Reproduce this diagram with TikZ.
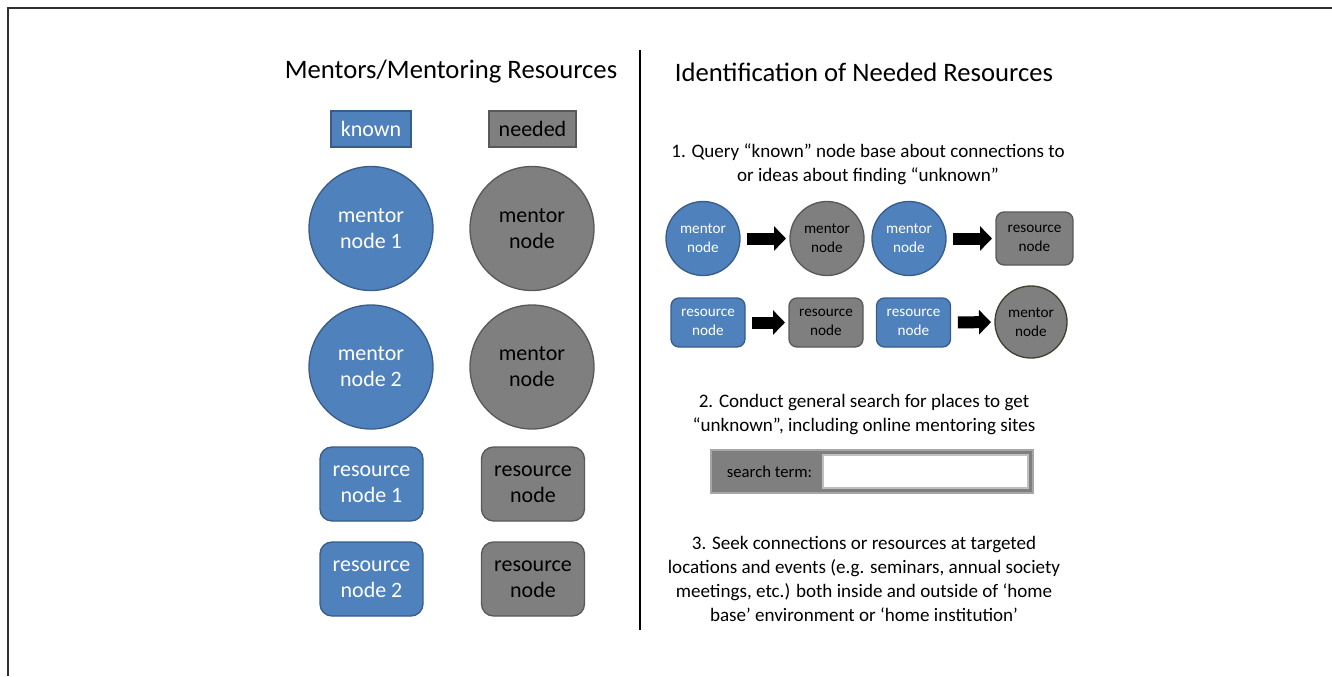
\documentclass[tikz,border=0pt]{standalone}
\usepackage{fontspec}
\setmainfont{Carlito}
\usetikzlibrary{arrows.meta}
\definecolor{bluefill}{HTML}{4F81BD}
\definecolor{blueline}{HTML}{385D8A}
\definecolor{grayfill}{HTML}{7F7F7F}
\definecolor{grayline}{HTML}{595959}
\definecolor{frameline}{HTML}{303030}
\tikzset{
  knownnode/.style={fill=bluefill, draw=blueline, line width=1pt, text=white, align=center},
  needednode/.style={fill=grayfill, draw=grayline, line width=1pt, text=black, align=center},
  bigfont/.style={font=\fontsize{16.5}{19.5}\selectfont},
  smallfont/.style={font=\fontsize{11.4}{14.25}\selectfont},
  bigcirc/.style={circle, minimum size=93pt, inner sep=0pt, bigfont},
  bigrect/.style={rectangle, rounded corners=9pt, minimum width=77.25pt, minimum height=55.5pt, inner sep=0pt, bigfont},
  smallcirc/.style={circle, minimum size=55.5pt, inner sep=0pt, smallfont},
  smallrect/.style={rectangle, rounded corners=6pt, minimum width=55.5pt, minimum height=36.75pt, inner sep=0pt, smallfont},
  legendbox/.style={rectangle, minimum height=27pt, inner sep=0pt, bigfont},
  titletext/.style={font=\fontsize{20}{24}\selectfont, inner sep=0pt},
  bodytext/.style={font=\fontsize{14.3}{18}\selectfont, align=center, inner sep=0pt},
  blockarrow/.style={line width=9pt, black, -{Triangle[length=9pt,width=18pt]}, shorten <=5pt, shorten >=2.5pt},
}
\begin{document}
\begin{tikzpicture}[x=0.75pt,y=-0.75pt]
\useasboundingbox (0,0) rectangle (1332,676);
% frame
\draw[frameline, line width=1.5pt] (8,676) -- (8,8) -- (1332,8);
% divider
\coordinate (divtop) at (640,50);
\coordinate (divbot) at (640,630);
\draw[black, line width=1.5pt] (divtop) -- (divbot);

% left column
\node[titletext] (ltitle) at (451,72) {Mentors/Mentoring Resources};
\node[knownnode, legendbox, minimum width=60pt] (known) at (371,129) {known};
\node[needednode, legendbox, minimum width=65.25pt] (needed) at (532.5,129) {needed};
\node[knownnode, bigcirc] (mentor1) at (371,228.5) {mentor\\node 1};
\node[needednode, bigcirc] (gmentor1) at (532,228.5) {mentor\\node};
\node[knownnode, bigcirc] (mentor2) at (371,367) {mentor\\node 2};
\node[needednode, bigcirc] (gmentor2) at (532,367) {mentor\\node};
\node[knownnode, bigrect] (res1) at (371.5,484) {resource\\node 1};
\node[needednode, bigrect] (gres1) at (533,484) {resource\\node};
\node[knownnode, bigrect] (res2) at (371.5,579) {resource\\node 2};
\node[needednode, bigrect] (gres2) at (533,579) {resource\\node};

% right column
\node[titletext] (rtitle) at (864,72) {Identification of Needed Resources};
\node[bodytext] (step1) at (868,164.5) {1. Query “known” node base about connections to\\or ideas about finding “unknown”};

\node[knownnode, smallcirc] (ma) at (703,238.5) {mentor\\node};
\node[needednode, smallcirc] (ga) at (827,238.5) {mentor\\node};
\node[knownnode, smallcirc] (mb) at (909,238.5) {mentor\\node};
\node[needednode, smallrect, minimum width=57.75pt, minimum height=39.75pt] (ra) at (1034.5,238.5) {resource\\node};
\draw[blockarrow] (ma) -- (ga);
\draw[blockarrow] (mb) -- (ra);

\node[knownnode, smallrect] (rb) at (708,322.5) {resource\\node};
\node[needednode, smallrect] (rc) at (826,322.5) {resource\\node};
\node[knownnode, smallrect] (rd) at (913.5,322.5) {resource\\node};
\node[needednode, smallcirc, minimum size=54pt, draw=black!70!olive] (gb) at (1031,322) {mentor\\node};
\draw[blockarrow] (rb) -- (rc);
\draw[blockarrow] (rd) -- (gb);

\node[bodytext] (step2) at (864,414.5) {2. Conduct general search for places to get\\“unknown”, including online mentoring sites};
\node[fill=grayfill, draw=black!35, line width=1pt, minimum width=241.5pt, minimum height=32.25pt, inner sep=0pt] (searchbox) at (872,471.5) {};
\node[fill=white, draw=black!25, line width=1pt, minimum width=153.75pt, minimum height=24.75pt, inner sep=0pt] (searchfield) at (925.5,471.5) {};
\node[font=\fontsize{12.5}{15}\selectfont, inner sep=0pt] (searchlabel) at (769.5,472) {search term:};

\node[bodytext] (step3) at (864,578.5) {3. Seek connections or resources at targeted\\locations and events (e.g. seminars, annual society\\meetings, etc.) both inside and outside of ‘home\\base’ environment or ‘home institution’};
\end{tikzpicture}
\end{document}
